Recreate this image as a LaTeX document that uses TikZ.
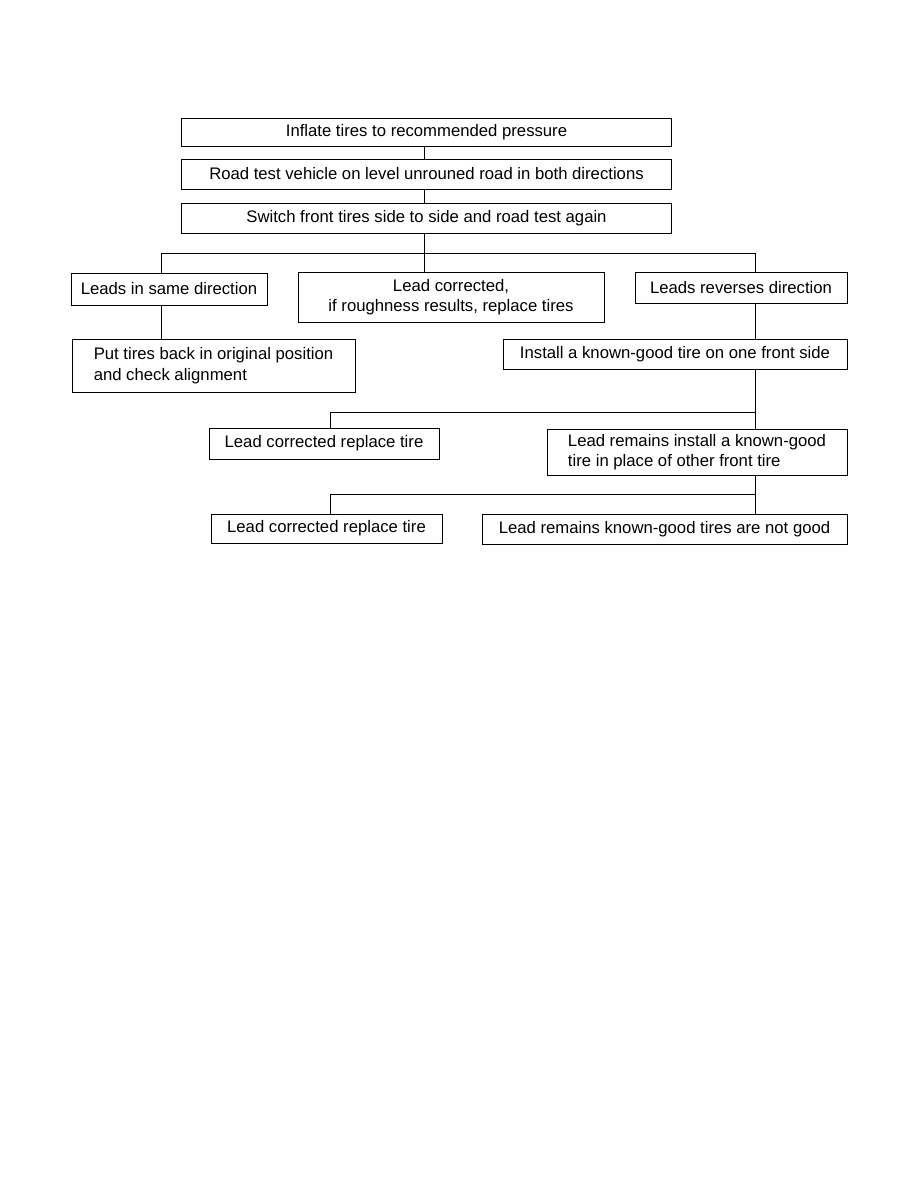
\documentclass[tikz,border=0pt]{standalone}
\usepackage{fontspec}
\setmainfont{Liberation Sans}
\usepackage{tikz}
\usetikzlibrary{positioning}

\begin{document}
\begin{tikzpicture}[x=1pt,y=-1pt,
  box/.style={draw=black,line width=0.9pt,inner sep=3pt,align=center,
    font=\fontsize{16.7}{20.5}\selectfont},
  link/.style={draw=black,line width=0.7pt}
]
\useasboundingbox (0,0) rectangle (918,1188);

\node[box,minimum width=490,minimum height=28] (inflate) at (426.5,132) {Inflate tires to recommended pressure};
\node[box,minimum width=490,minimum height=30] (road) at (426.5,174) {Road test vehicle on level unrouned road in both directions};
\node[box,minimum width=490,minimum height=30] (switch) at (426.5,218) {Switch front tires side to side and road test again};

\node[box,minimum width=196,minimum height=32] (same) at (169,289) {Leads in same direction};
\node[box,minimum width=306,minimum height=50] (fixed) at (451,297) {Lead corrected,\\if roughness results, replace tires};
\node[box,minimum width=212,minimum height=31] (reverse) at (741,287.5) {Leads reverses direction};

\node[box,align=left,minimum width=283,minimum height=53] (restore) at (213.5,365.5) {Put tires back in original position\\and check alignment};
\node[box,minimum width=344,minimum height=30] (install) at (675,354) {Install a known-good tire on one front side};

\node[box,minimum width=230,minimum height=31] (swapa) at (324,443.5) {Lead corrected replace tire};
\node[box,align=left,minimum width=300,minimum height=46] (remain) at (697,452) {Lead remains install a known-good\\tire in place of other front tire};

\node[box,minimum width=231,minimum height=29] (swapb) at (326.5,528.5) {Lead corrected replace tire};
\node[box,minimum width=365,minimum height=30] (notgood) at (664.5,529) {Lead remains known-good tires are not good};

% junctions
\coordinate (j1) at (424,253);
\coordinate (ls) at (161,253);
\coordinate (rs) at (755,253);
\coordinate (j2) at (755,412);
\coordinate (j2l) at (330,412);
\coordinate (j3) at (755,494);
\coordinate (j3l) at (330,494);

\draw[link] (inflate.south -| j1) -- (road.north -| j1);
\draw[link] (road.south -| j1) -- (switch.north -| j1);
\draw[link] (switch.south -| j1) -- (j1);
\draw[link] (same.north -| ls) -- (ls) -- (rs) -- (reverse.north -| rs);
\draw[link] (j1) -- (fixed.north -| j1);
\draw[link] (same.south -| ls) -- (restore.north -| ls);
\draw[link] (reverse.south -| rs) -- (install.north -| rs);
\draw[link] (install.south -| j2) -- (j2) -- (j2l) -- (swapa.north -| j2l);
\draw[link] (j2) -- (remain.north -| j2);
\draw[link] (remain.south -| j3) -- (j3) -- (j3l) -- (swapb.north -| j3l);
\draw[link] (j3) -- (notgood.north -| j3);
\end{tikzpicture}
\end{document}
